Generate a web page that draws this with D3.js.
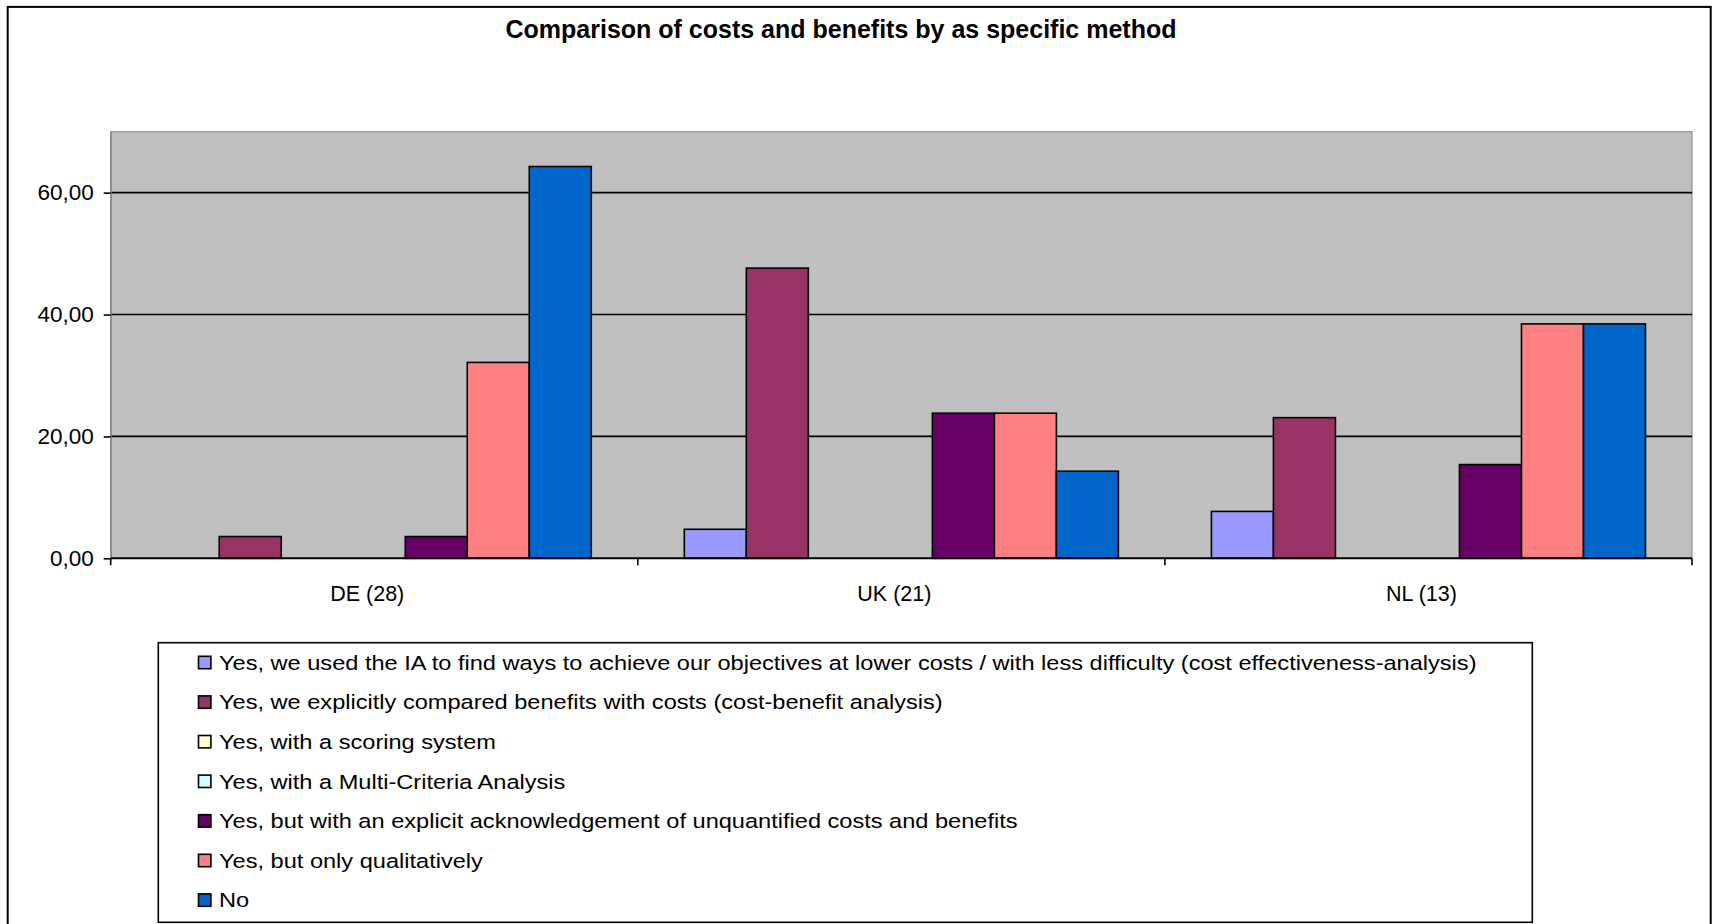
<!DOCTYPE html>
<html>
<head>
<meta charset="utf-8">
<script src="https://cdn.jsdelivr.net/npm/d3@7"></script>
<style>
  html, body { margin: 0; padding: 0; background: #fff; }
  svg { display: block; font-family: "Liberation Sans", Arial, sans-serif; }
</style>
</head>
<body>
<svg id="chart" width="1713" height="924"></svg>
<script>
// Survey answers, share of impact assessments per country (%)
const categories = ["DE (28)", "UK (21)", "NL (13)"];
const seriesNames = [
  "Yes, we used the IA to find ways to achieve our objectives at lower costs / with less difficulty (cost effectiveness-analysis)",
  "Yes, we explicitly compared benefits with costs (cost-benefit analysis)",
  "Yes, with a scoring system",
  "Yes, with a Multi-Criteria Analysis",
  "Yes, but with an explicit acknowledgement of unquantified costs and benefits",
  "Yes, but only qualitatively",
  "No"
];
const seriesColors = ["#9999FF", "#993366", "#FFFFCC", "#CCFFFF", "#660066", "#FF8080", "#0066CC"];
// one value per series, in the order of seriesNames
const valuesDE = [0, 3.57, 0, 0, 3.57, 32.14, 64.29];
const valuesUK = [4.76, 47.62, 0, 0, 23.81, 23.81, 14.29];
const valuesNL = [7.69, 23.08, 0, 0, 15.38, 38.46, 38.46];
const yTicks = [0, 20, 40, 60];
const yMax = 70;
const chartTitle = "Comparison of costs and benefits by as specific method";

const valuesByCategory = [valuesDE, valuesUK, valuesNL];

const svg = d3.select("#chart");
const plot = { left: 110.7, top: 131.7, right: 1692, bottom: 558.3 };

// outer chart frame
svg.append("rect")
  .attr("x", 7.7).attr("y", 6.9)
  .attr("width", 1703).attr("height", 940)
  .attr("fill", "#fff").attr("stroke", "#000").attr("stroke-width", 2);

// title
svg.append("text")
  .attr("x", 841).attr("y", 37.5)
  .attr("text-anchor", "middle")
  .attr("font-size", 25).attr("font-weight", "bold")
  .text(chartTitle);

const x = d3.scaleBand().domain(categories).range([plot.left, plot.right]).padding(0);
const xInner = d3.scaleBand().domain(d3.range(seriesNames.length))
  .range([0, x.bandwidth()]).paddingInner(0).paddingOuter(0.75);
const y = d3.scaleLinear().domain([0, yMax]).range([plot.bottom, plot.top]);

// plot area
svg.append("rect")
  .attr("x", plot.left).attr("y", plot.top)
  .attr("width", plot.right - plot.left).attr("height", plot.bottom - plot.top)
  .attr("fill", "#C0C0C0").attr("stroke", "#808080").attr("stroke-width", 1);

// gridlines
svg.append("g")
  .selectAll("line")
  .data(yTicks.filter(d => d > 0))
  .join("line")
  .attr("x1", plot.left).attr("x2", plot.right)
  .attr("y1", d => y(d)).attr("y2", d => y(d))
  .attr("stroke", "#000").attr("stroke-width", 1.6);

// bars
const groups = svg.append("g")
  .selectAll("g")
  .data(categories)
  .join("g")
  .attr("transform", d => `translate(${x(d)},0)`);

groups.selectAll("rect")
  .data((c, i) => valuesByCategory[i].map((v, s) => ({ v, s })).filter(d => d.v > 0))
  .join("rect")
  .attr("x", d => xInner(d.s))
  .attr("width", xInner.bandwidth())
  .attr("y", d => y(d.v))
  .attr("height", d => y(0) - y(d.v))
  .attr("fill", d => seriesColors[d.s])
  .attr("stroke", "#000").attr("stroke-width", 1.6);

// y axis
const fmt = d3.format(".2f");
const yAxis = d3.axisLeft(y)
  .tickValues(yTicks)
  .tickSize(7)
  .tickSizeOuter(0)
  .tickPadding(10)
  .tickFormat(d => fmt(d).replace(".", ","));
const gy = svg.append("g")
  .attr("transform", `translate(${plot.left},0)`)
  .call(yAxis);
gy.select(".domain").attr("stroke", "#808080").attr("stroke-width", 1);
gy.selectAll(".tick line").attr("stroke", "#000").attr("stroke-width", 1.6);
gy.selectAll(".tick text")
  .attr("font-size", 22.5).attr("fill", "#000")
  .attr("font-family", "\"Liberation Sans\", Arial, sans-serif");

// x axis: baseline, boundary ticks and category labels
const gx = svg.append("g");
gx.append("line")
  .attr("x1", plot.left).attr("x2", plot.right)
  .attr("y1", y(0)).attr("y2", y(0))
  .attr("stroke", "#000").attr("stroke-width", 2);
const boundaries = categories.map(c => x(c)).concat([x(categories[categories.length - 1]) + x.bandwidth()]);
gx.selectAll("line.bt")
  .data(boundaries)
  .join("line")
  .attr("class", "bt")
  .attr("x1", d => d).attr("x2", d => d)
  .attr("y1", y(0)).attr("y2", y(0) + 7)
  .attr("stroke", "#000").attr("stroke-width", 1.6);
gx.selectAll("text")
  .data(categories)
  .join("text")
  .attr("x", d => x(d) + x.bandwidth() / 2 - 7)
  .attr("y", 600.5)
  .attr("text-anchor", "middle")
  .attr("font-size", 21.5)
  .text(d => d);

// legend
const legend = { left: 158.3, top: 642.7, right: 1532.3, bottom: 922.3, firstRow: 662.5, rowStep: 39.6 };
svg.append("rect")
  .attr("x", legend.left).attr("y", legend.top)
  .attr("width", legend.right - legend.left).attr("height", legend.bottom - legend.top)
  .attr("fill", "#fff").attr("stroke", "#000").attr("stroke-width", 1.6);

const items = svg.append("g")
  .selectAll("g")
  .data(seriesNames)
  .join("g")
  .attr("transform", (d, i) => `translate(0,${legend.firstRow + i * legend.rowStep})`);
items.append("rect")
  .attr("x", 198.5).attr("y", -6.2)
  .attr("width", 12.4).attr("height", 12.4)
  .attr("fill", (d, i) => seriesColors[i])
  .attr("stroke", "#000").attr("stroke-width", 1.6);
const legendText = items.append("text")
  .attr("x", 219)
  .attr("y", 0)
  .attr("dy", "0.36em")
  .attr("font-size", 20.5)
  .text(d => d);
// legend labels are set slightly wider than the font's natural advance
const legendStretch = 1.15;
legendText.each(function () {
  const len = this.getComputedTextLength();
  d3.select(this).attr("textLength", len * legendStretch).attr("lengthAdjust", "spacingAndGlyphs");
});
</script>
</body>
</html>
